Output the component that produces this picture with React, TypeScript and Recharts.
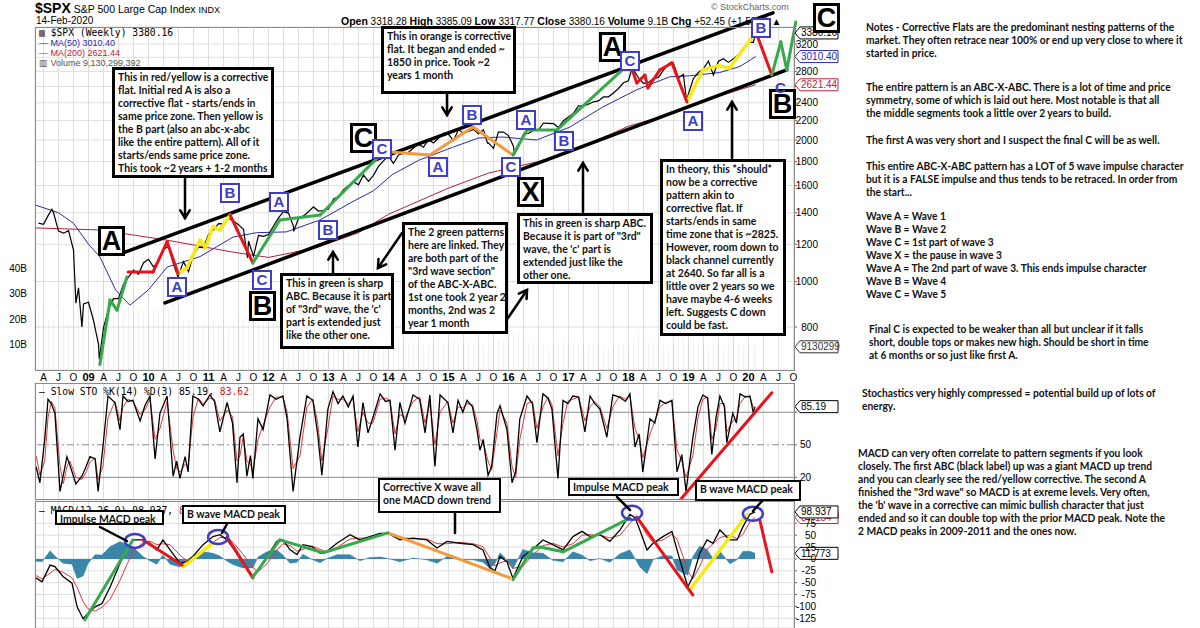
import React from "react";
import {
  ComposedChart,
  Line,
  Bar,
  Area,
  XAxis,
  YAxis,
  CartesianGrid,
  ReferenceLine,
  ReferenceDot,
  Cell,
} from "recharts";

const X_MIN = 2008.108;
const X_MAX = 2020.76;

// $SPX weekly, read at month ends (Feb 2008 .. Jan 2020)
const closeStart = 2008 + 2 / 12;
const monthlyClose = [
  1331, 1323, 1386, 1400, 1280, 1267, 1283, 1166, 969, 896, 903,
  826, 735, 798, 873, 919, 919, 987, 1021, 1057, 1036, 1096, 1115,
  1074, 1104, 1169, 1187, 1089, 1031, 1102, 1049, 1141, 1183, 1181, 1258,
  1286, 1327, 1326, 1364, 1345, 1321, 1292, 1219, 1131, 1253, 1247, 1258,
  1312, 1366, 1408, 1398, 1310, 1362, 1379, 1407, 1441, 1412, 1416, 1426,
  1498, 1515, 1569, 1598, 1631, 1606, 1686, 1633, 1682, 1757, 1806, 1848,
  1783, 1859, 1872, 1884, 1924, 1960, 1931, 2003, 1972, 2018, 2068, 2059,
  1995, 2105, 2068, 2086, 2107, 2063, 2104, 1972, 1920, 2079, 2080, 2044,
  1940, 1932, 2060, 2065, 2097, 2099, 2174, 2171, 2168, 2126, 2199, 2239,
  2279, 2364, 2363, 2384, 2412, 2423, 2470, 2472, 2519, 2575, 2648, 2674,
  2824, 2714, 2641, 2648, 2705, 2718, 2816, 2902, 2914, 2712, 2760, 2507,
  2704, 2784, 2834, 2946, 2752, 2942, 2980, 2926, 2977, 3038, 3141, 3231,
  3226,
];
const lastClose: [number, number] = [2020.12, 3380.16];
const weeklyExtremes: [number, number][] = [
  [2008.39, 1425], [2008.79, 899], [2008.89, 800], [2009.18, 683],
  [2010.49, 1022], [2011.65, 1123], [2012.42, 1278], [2015.65, 1971],
  [2016.1, 1865], [2018.07, 2873], [2018.72, 2930], [2018.97, 2417],
];
// weekly volume in billions, same months (+ Feb 2020)
const monthlyVolume = [
  22, 24, 20, 19, 22, 24, 18, 30, 38, 32, 26,
  28, 30, 36, 30, 28, 25, 22, 25, 23, 24, 22, 20,
  24, 22, 20, 24, 30, 26, 20, 20, 18, 18, 18, 16,
  20, 19, 20, 16, 18, 22, 20, 30, 26, 24, 20, 18,
  18, 17, 16, 16, 18, 17, 15, 13, 16, 16, 16, 15,
  16, 15, 15, 15, 16, 16, 14, 13, 14, 14, 13, 13,
  13, 12, 12, 11, 10, 10, 10, 10, 11, 14, 10, 11,
  12, 11, 11, 11, 10, 11, 10, 15, 13, 12, 11, 12,
  15, 14, 12, 11, 10, 12, 10, 9, 10, 10, 12, 11,
  11, 10, 11, 10, 10, 11, 9, 9, 9, 10, 10, 9,
  12, 16, 13, 11, 10, 11, 10, 9, 10, 14, 12, 15,
  12, 11, 11, 9, 11, 10, 9, 11, 10, 10, 9, 10,
  11, 9.13,
];
const ma50Points: [number, number][] = [
  [2008.11, 1455], [2008.5, 1400], [2008.75, 1330], [2009.0, 1200], [2009.19, 1128],
  [2009.45, 960], [2009.69, 890], [2010.0, 960], [2010.31, 1073], [2010.86, 1130],
  [2011.41, 1243], [2011.8, 1270], [2012.3, 1275], [2012.86, 1352], [2013.41, 1480],
  [2013.75, 1560], [2014.07, 1690], [2014.5, 1810], [2015.07, 1930], [2015.5, 2020],
  [2015.9, 2030], [2016.47, 2000], [2017.02, 2130], [2017.57, 2350], [2018.14, 2559],
  [2018.69, 2727], [2019.02, 2740], [2019.52, 2784], [2019.86, 2868], [2020.12, 3010.4],
];
const ma200Points: [number, number][] = [
  [2008.11, 1300], [2009.19, 1287], [2010.3, 1225], [2011.4, 1155], [2012.0, 1125],
  [2012.8, 1180], [2013.5, 1270], [2014.0, 1390], [2015.0, 1580], [2015.66, 1700],
  [2016.5, 1800], [2017.0, 1880], [2018.0, 2140], [2018.69, 2270], [2019.5, 2480],
  [2020.12, 2621.44],
];

// Slow STO %K(14) %D(3)
const stochPoints: [number, number, number][] = [
  [2008.125, 30, 40], [2008.19, 15, 22], [2008.27, 55, 35], [2008.325, 92, 75], [2008.38, 88, 90],
  [2008.44, 79, 84], [2008.525, 7, 30], [2008.58, 22, 14], [2008.64, 39, 30], [2008.69, 31, 35],
  [2008.79, 14, 20], [2008.89, 21, 18], [2008.96, 30, 25], [2009.025, 39, 34], [2009.11, 37, 38],
  [2009.16, 7, 18], [2009.24, 48, 30], [2009.325, 95, 75], [2009.44, 89, 90], [2009.525, 64, 72],
  [2009.575, 95, 85], [2009.66, 90, 92], [2009.74, 91, 90], [2009.86, 72, 78], [2009.94, 86, 82],
  [2010.025, 95, 92], [2010.11, 37, 55], [2010.19, 79, 65], [2010.31, 95, 90], [2010.41, 21, 45],
  [2010.47, 35, 28], [2010.525, 19, 25], [2010.61, 39, 32], [2010.66, 25, 30], [2010.74, 95, 75],
  [2010.83, 92, 93], [2010.91, 86, 88], [2011.025, 96, 93], [2011.1, 90, 92], [2011.19, 62, 72],
  [2011.31, 89, 82], [2011.4, 70, 76], [2011.475, 15, 35], [2011.525, 57, 40], [2011.58, 60, 58],
  [2011.64, 21, 35], [2011.7, 40, 32], [2011.74, 19, 26], [2011.825, 74, 55], [2011.91, 64, 68],
  [2012.025, 96, 85], [2012.13, 92, 94], [2012.24, 95, 94], [2012.31, 74, 80], [2012.41, 7, 28],
  [2012.525, 57, 40], [2012.64, 95, 85], [2012.74, 91, 92], [2012.82, 60, 70], [2012.89, 22, 35],
  [2012.99, 83, 65], [2013.075, 99, 95], [2013.16, 88, 92], [2013.24, 95, 92], [2013.33, 85, 88],
  [2013.41, 95, 92], [2013.49, 48, 62], [2013.575, 89, 80], [2013.66, 61, 70], [2013.74, 75, 70],
  [2013.86, 97, 92], [2013.95, 90, 93], [2014.025, 91, 91], [2014.11, 45, 60], [2014.19, 89, 78],
  [2014.275, 70, 75], [2014.41, 96, 90], [2014.52, 92, 94], [2014.61, 61, 70], [2014.69, 96, 88],
  [2014.775, 30, 50], [2014.86, 96, 80], [2014.99, 89, 90], [2015.075, 61, 70], [2015.16, 91, 85],
  [2015.24, 80, 84], [2015.31, 91, 88], [2015.4, 85, 87], [2015.475, 64, 72], [2015.525, 45, 55],
  [2015.58, 55, 52], [2015.66, 22, 35], [2015.72, 30, 27], [2015.81, 79, 62], [2015.86, 86, 82],
  [2015.975, 64, 70], [2016.06, 15, 30], [2016.12, 25, 20], [2016.19, 74, 55], [2016.31, 95, 88],
  [2016.4, 88, 90], [2016.475, 52, 65], [2016.575, 97, 85], [2016.66, 93, 94], [2016.725, 83, 87],
  [2016.825, 19, 40], [2016.91, 91, 70], [2016.99, 88, 90], [2017.075, 95, 92], [2017.17, 94, 94],
  [2017.275, 62, 72], [2017.36, 95, 85], [2017.44, 88, 90], [2017.525, 83, 85], [2017.64, 57, 65],
  [2017.74, 96, 85], [2017.85, 94, 95], [2017.95, 90, 92], [2018.025, 97, 95], [2018.11, 48, 65],
  [2018.18, 60, 55], [2018.24, 25, 38], [2018.36, 74, 60], [2018.44, 70, 72], [2018.525, 91, 85],
  [2018.62, 88, 89], [2018.725, 91, 90], [2018.81, 25, 45], [2018.89, 41, 35], [2018.96, 7, 20],
  [2019.075, 57, 40], [2019.16, 85, 75], [2019.24, 96, 92], [2019.32, 93, 94], [2019.39, 41, 55],
  [2019.46, 75, 65], [2019.525, 95, 88], [2019.6, 85, 88], [2019.64, 52, 62], [2019.74, 79, 72],
  [2019.8, 70, 74], [2019.86, 97, 88], [2019.95, 94, 95], [2020.025, 95, 94], [2020.08, 80, 85],
  [2020.11, 85.19, 83.62],
];

// MACD(12,26,9): macd, signal, histogram
const macdPoints: [number, number, number, number][] = [
  [2008.125, -40, -35, -5], [2008.225, -48, -42, -6], [2008.36, -13, -30, 17], [2008.44, -16, -22, 6],
  [2008.575, -37, -28, -9], [2008.725, -51, -40, -11], [2008.81, -101, -60, -41], [2008.91, -126, -90, -36],
  [2008.99, -115, -105, -10], [2009.11, -101, -110, 9], [2009.225, -94, -102, 8], [2009.36, -59, -85, 26],
  [2009.525, -9, -45, 36], [2009.64, 19, -12, 31], [2009.74, 40, 15, 25], [2009.91, 40, 35, 5],
  [2010.025, 33, 37, -4], [2010.14, 19, 30, -11], [2010.24, 40, 32, 8], [2010.36, 19, 30, -11],
  [2010.525, -9, 8, -17], [2010.64, -6, -4, -2], [2010.74, 5, -1, 6], [2010.91, 30, 15, 15],
  [2011.075, 47, 35, 12], [2011.19, 51, 45, 6], [2011.31, 40, 45, -5], [2011.41, 23, 35, -12],
  [2011.575, -9, 10, -19], [2011.74, -37, -18, -19], [2011.825, -23, -27, 4], [2011.975, 5, -10, 15],
  [2012.14, 37, 18, 19], [2012.24, 40, 32, 8], [2012.36, 19, 28, -9], [2012.475, 9, 16, -7],
  [2012.575, 30, 20, 10], [2012.725, 26, 27, -1], [2012.86, 12, 20, -8], [2012.975, 16, 15, 1],
  [2013.14, 33, 24, 9], [2013.36, 51, 42, 9], [2013.525, 40, 44, -4], [2013.69, 47, 44, 3],
  [2013.86, 54, 50, 4], [2013.99, 54, 53, 1], [2014.19, 40, 46, -6], [2014.41, 44, 42, 2],
  [2014.64, 40, 42, -2], [2014.81, 23, 32, -9], [2014.975, 37, 32, 5], [2015.19, 33, 35, -2],
  [2015.41, 30, 32, -2], [2015.575, 19, 26, -7], [2015.69, -18, 2, -20], [2015.775, -25, -15, -10],
  [2015.86, 5, -8, 13], [2015.975, -6, -4, -2], [2016.075, -41, -20, -21], [2016.24, 5, -15, 20],
  [2016.41, 21, 8, 13], [2016.575, 40, 28, 12], [2016.74, 30, 33, -3], [2016.91, 19, 25, -6],
  [2017.075, 47, 32, 15], [2017.225, 58, 50, 8], [2017.36, 47, 51, -4], [2017.525, 51, 50, 1],
  [2017.69, 37, 44, -7], [2017.86, 61, 50, 11], [2018.025, 94, 75, 19], [2018.11, 87, 86, 1],
  [2018.19, 61, 78, -17], [2018.31, 19, 50, -31], [2018.41, 33, 35, -2], [2018.575, 47, 40, 7],
  [2018.725, 58, 52, 6], [2018.81, 19, 42, -23], [2018.91, -25, 5, -30], [2018.99, -59, -25, -34],
  [2019.075, -37, -42, 5], [2019.19, 12, -15, 27], [2019.31, 40, 20, 20], [2019.41, 33, 32, 1],
  [2019.525, 61, 45, 16], [2019.69, 40, 50, -10], [2019.81, 40, 42, -2], [2019.91, 68, 52, 16],
  [2020.025, 94, 78, 16], [2020.11, 98.937, 87.154, 11.773],
];

// hand-drawn wave annotations (date, price)
const channelLines: [number, number][][] = [
  [[2009.575, 1150], [2020.41, 3729]],
  [[2010.275, 900], [2020.64, 2820]],
];
const greenWaves: [number, number][][] = [
  [[2009.19, 666], [2009.36, 913], [2009.475, 869], [2009.64, 1022]],
  [[2011.74, 1095], [2012.19, 1352], [2012.86, 1385], [2013.92, 1890]],
  [[2016.075, 1859], [2016.31, 2101], [2016.81, 2101], [2018.025, 2918]],
  [[2020.39, 2751], [2020.54, 3235], [2020.64, 2820], [2020.79, 3568]],
];
const redWaves: [number, number][][] = [
  [[2009.66, 1047], [2010.075, 1047], [2010.31, 1214], [2010.49, 1042]],
  [[2011.36, 1385], [2011.74, 1095]],
  [[2018.025, 2918], [2018.14, 2646], [2018.275, 2751], [2018.325, 2582], [2018.525, 2820], [2018.725, 2918], [2018.975, 2410]],
  [[2020.125, 3397], [2020.39, 2751]],
];
const yellowWaves: [number, number][][] = [
  [[2010.49, 1042], [2010.64, 1068], [2010.86, 1225], [2010.95, 1180], [2011.075, 1309], [2011.19, 1287], [2011.36, 1385]],
  [[2018.975, 2410], [2019.24, 2820], [2019.5, 2880], [2019.69, 2847], [2019.78, 2960], [2020.075, 3318]],
];
const orangeWaves: [number, number][][] = [
  [[2013.92, 1890], [2014.69, 1859], [2015.41, 2132], [2016.075, 1859]],
];
// waves on the MACD panel (date, macd)
const macdGreen: [number, number][][] = [
  [[2008.94, -128], [2009.74, 40]],
  [[2011.74, -38], [2012.19, 40], [2012.91, 13], [2013.99, 55]],
  [[2016.075, -44], [2016.41, 23], [2016.525, 25], [2016.91, 15], [2018.025, 86]],
];
const macdRed: [number, number][][] = [
  [[2009.91, 40], [2010.56, -13]],
  [[2011.31, 46], [2011.74, -40]],
  [[2018.14, 88], [2019.075, -76]],
  [[2020.19, 82], [2020.39, -27]],
];
const macdYellow: [number, number][][] = [
  [[2010.575, -17], [2011.075, 34]],
  [[2019.025, -65], [2019.975, 93]],
];
const macdOrange: [number, number][][] = [[[2013.99, 55], [2016.025, -40]]];
const macdPeaks: [number, number][] = [[2009.775, 38], [2011.16, 46], [2018.06, 97], [2020.075, 95]];
const stochTrend: [number, number][] = [[2018.86, -1], [2020.39, 98]];

const priceTicks = [800, 1000, 1200, 1400, 1600, 1800, 2000, 2200, 2400, 2600, 2800, 3000, 3200];
const hiddenPriceLabels = [2600, 3000];
const macdTicks = [-125, -100, -75, -50, -25, 0, 25, 50, 75];

const quarterTicks: number[] = [];
for (let y = 2008; y <= 2020; y++) {
  for (let q = 0; q < 4; q++) {
    const t = y + q / 4;
    if (t > X_MIN && t < X_MAX) quarterTicks.push(t);
  }
}

const monthRows = monthlyClose.map((c, i) => ({
  x: closeStart + i / 12,
  close: c,
  vol: monthlyVolume[i],
  down: i > 0 && c < monthlyClose[i - 1],
}));
monthRows.push({ x: lastClose[0], close: lastClose[1], vol: monthlyVolume[144], down: false });
const priceRows: any[] = [
  ...monthRows,
  ...weeklyExtremes.map(([x, close]) => ({ x, close })),
  ...ma50Points.map(([x, ma50]) => ({ x, ma50 })),
  ...ma200Points.map(([x, ma200]) => ({ x, ma200 })),
].sort((a, b) => a.x - b.x);

const stochRows = stochPoints.map(([x, k, d]) => ({ x, k, d }));
const macdRows = macdPoints.map(([x, macd, signal, hist]) => ({ x, macd, signal, hist }));

const AX = "Liberation Sans, Arial, sans-serif";
const NOTE_FONT = "Lato, 'Open Sans', sans-serif";
const RED = "#e8141c";
const YELLOW = "#f6ea12";
const GREEN = "#36a94b";
const ORANGE = "#f59a3c";
const BLUE = "#3d3dc7";

const QuarterTick = (props: any) => {
  const { x, y, payload } = props;
  const v = payload.value;
  const q = Math.round((v - Math.floor(v)) * 4);
  const label = q === 0 ? String(Math.floor(v)).slice(2) : ["", "A", "J", "O"][q];
  return (
    <text x={x} y={y} dy={3} textAnchor="middle" fontSize={q === 0 ? 11 : 10}
      fontWeight={q === 0 ? 700 : 400} fontFamily={AX} fill="#000">
      {label}
    </text>
  );
};

const rightTick = (anchorX: number, anchor: "start" | "end", hidden: number[] = []) => (props: any) => {
  const { y, payload } = props;
  if (hidden.includes(payload.value)) return <g />;
  return (
    <text x={anchorX} y={y} dy={3.5} textAnchor={anchor} fontSize={10} fontFamily={AX} fill="#000">
      {payload.value}
    </text>
  );
};

const tagShape = (label: string, color: string) => (props: any) => {
  const { cx, cy } = props;
  if (cx == null || cy == null) return null;
  return (
    <g>
      <polygon
        points={`${cx + 1},${cy} ${cx + 6},${cy - 6} ${cx + 44},${cy - 6} ${cx + 44},${cy + 6} ${cx + 6},${cy + 6}`}
        fill="#fff" stroke={color} strokeWidth={1}
      />
      <text x={cx + 7} y={cy + 3.5} fontSize={10} fill={color} fontFamily={AX}>{label}</text>
    </g>
  );
};

const ellipseShape = (props: any) => {
  const { cx, cy } = props;
  if (cx == null || cy == null) return null;
  return <ellipse cx={cx} cy={cy} rx={10} ry={7} fill="none" stroke={BLUE} strokeWidth={2.5} />;
};

function segments(paths: [number, number][][], color: string, width: number, yAxisId?: string) {
  const out: any[] = [];
  paths.forEach((p, pi) => {
    for (let i = 0; i < p.length - 1; i++) {
      out.push(
        <ReferenceLine
          key={`${color}-${pi}-${i}`}
          yAxisId={yAxisId}
          segment={[{ x: p[i][0], y: p[i][1] }, { x: p[i + 1][0], y: p[i + 1][1] }]}
          stroke={color}
          strokeWidth={width}
          strokeLinecap="round"
          ifOverflow="visible"
        />
      );
    }
  });
  return out;
}

function NoteText({ x, y, lines, scale = 0.93, size = 11 }: any) {
  return (
    <div style={{
      position: "absolute", left: x, top: y, whiteSpace: "nowrap",
      transform: `scaleX(${scale})`, transformOrigin: "left top",
      fontFamily: NOTE_FONT, fontWeight: 700, fontSize: size, lineHeight: "13px", color: "#111",
    }}>
      {lines.map((l: string, i: number) => <div key={i}>{l}</div>)}
    </div>
  );
}

function TextBox({ x, y, w, h, lines, bw = 3 }: any) {
  return (
    <div style={{
      position: "absolute", left: x, top: y, width: w, height: h, boxSizing: "border-box",
      border: `${bw}px solid #000`, background: "#fff", overflow: "hidden",
    }}>
      <NoteText x={3} y={0} lines={lines} scale={0.95} />
    </div>
  );
}

function BigLetter({ x, y, t }: any) {
  return (
    <div style={{
      position: "absolute", left: x - 13, top: y - 15, width: 27, height: 30, boxSizing: "border-box",
      border: "3px solid #000", background: "#fff", fontFamily: AX, fontWeight: 700, fontSize: 27,
      lineHeight: "25px", textAlign: "center", color: "#000",
    }}>{t}</div>
  );
}

function BlueLetter({ x, y, t }: any) {
  return (
    <div style={{
      position: "absolute", left: x - 10, top: y - 10, width: 20, height: 20, boxSizing: "border-box",
      border: `2.5px solid ${BLUE}`, background: "#fff", fontFamily: AX, fontWeight: 700, fontSize: 15,
      lineHeight: "15px", textAlign: "center", color: BLUE,
    }}>{t}</div>
  );
}

const arrows = [
  { a: [185, 177], b: [185, 218], head: true },
  { a: [447, 93], b: [447, 115], head: true },
  { a: [333, 273], b: [333, 252], head: true },
  { a: [402, 233], b: [378, 268], head: true },
  { a: [508, 318], b: [527, 290], head: true },
  { a: [583, 212], b: [583, 163], head: true },
  { a: [732, 158], b: [732, 102], head: true },
  { a: [100, 527], b: [127, 541], head: false },
  { a: [227, 524], b: [222, 533], head: false },
  { a: [455, 512], b: [455, 533], head: false },
  { a: [617, 497], b: [630, 510], head: false },
  { a: [763, 500], b: [753, 511], head: false },
];

function Arrow({ a, b, head }: any) {
  const ang = Math.atan2(b[1] - a[1], b[0] - a[0]);
  const L = 9;
  const p1 = [b[0] - L * Math.cos(ang - 0.55), b[1] - L * Math.sin(ang - 0.55)];
  const p2 = [b[0] - L * Math.cos(ang + 0.55), b[1] - L * Math.sin(ang + 0.55)];
  return (
    <g stroke="#000" strokeWidth={2.5} fill="none" strokeLinecap="round">
      <line x1={a[0]} y1={a[1]} x2={b[0]} y2={b[1]} />
      {head && <polyline points={`${p1[0]},${p1[1]} ${b[0]},${b[1]} ${p2[0]},${p2[1]}`} />}
    </g>
  );
}

const panelBorder = (top: number, height: number) => (
  <div style={{
    position: "absolute", left: 35, top, width: 760, height, boxSizing: "border-box",
    border: "1px solid #8a8a8a", pointerEvents: "none",
  }} />
);

const mono = "'DejaVu Sans Mono', monospace";

export default function App() {
  return (
    <div style={{ position: "absolute", left: 0, top: 0, width: 1200, height: 628, background: "#fff", overflow: "hidden", fontFamily: AX }}>
      {/* price panel */}
      <div style={{ position: "absolute", left: 0, top: 0 }}>
        <ComposedChart width={840} height={388} data={priceRows} margin={{ top: 27, right: 0, bottom: 0, left: 0 }}>
          <CartesianGrid stroke="#dedede" yAxisId="price" />
          <XAxis dataKey="x" type="number" domain={[X_MIN, X_MAX]} allowDataOverflow ticks={quarterTicks}
            interval={0} tick={<QuarterTick />} tickLine={false} axisLine={false} height={18} />
          <YAxis yAxisId="vol" orientation="left" width={35} domain={[0, 135]} allowDataOverflow ticks={[10, 20, 30, 40]}
            tickFormatter={(v: number) => `${v}B`} axisLine={false} tickLine={false}
            tick={{ fontSize: 10, fill: "#000", fontFamily: AX }} />
          <YAxis yAxisId="price" orientation="right" width={46} scale="log" domain={[648, 3480]} allowDataOverflow
            ticks={priceTicks} interval={0} axisLine={false} tickSize={3} tick={rightTick(818, "end", hiddenPriceLabels)} />
          <Bar yAxisId="vol" dataKey="vol" barSize={4} isAnimationActive={false}>
            {priceRows.map((r, i) => <Cell key={i} fill={r.down ? "#e3a3a3" : "#b3b3b3"} />)}
          </Bar>
          <Line yAxisId="price" dataKey="ma200" stroke="#b5203c" strokeWidth={1} dot={false} connectNulls isAnimationActive={false} />
          <Line yAxisId="price" dataKey="ma50" stroke="#2a2aa8" strokeWidth={1} dot={false} connectNulls isAnimationActive={false} />
          <Line yAxisId="price" dataKey="close" stroke="#000" strokeWidth={1.2} dot={false} connectNulls isAnimationActive={false} />
          {segments(channelLines, "#000", 3.5, "price")}
          {segments(orangeWaves, ORANGE, 3, "price")}
          {segments(yellowWaves, YELLOW, 3.5, "price")}
          {segments(redWaves, RED, 3, "price")}
          {segments(greenWaves, GREEN, 3, "price")}
          <ReferenceDot yAxisId="vol" x={X_MAX} y={9.13} r={0} ifOverflow="visible" shape={tagShape("9130299", "#333")} />
          <ReferenceDot yAxisId="price" x={X_MAX} y={2621.44} r={0} ifOverflow="visible" shape={tagShape("2621.44", "#c0203c")} />
          <ReferenceDot yAxisId="price" x={X_MAX} y={3010.4} r={0} ifOverflow="visible" shape={tagShape("3010.40", "#2a2aa8")} />
          <ReferenceDot yAxisId="price" x={X_MAX} y={3380.16} r={0} ifOverflow="visible" shape={tagShape("3380.16", "#000")} />
        </ComposedChart>
      </div>

      {/* stochastics panel */}
      <div style={{ position: "absolute", left: 0, top: 383 }}>
        <ComposedChart width={840} height={116} data={stochRows} margin={{ top: 0, right: 0, bottom: 0, left: 35 }}>
          <CartesianGrid stroke="#dedede" horizontal={false} />
          <XAxis dataKey="x" type="number" domain={[X_MIN, X_MAX]} allowDataOverflow ticks={quarterTicks} interval={0} hide />
          <YAxis orientation="right" width={46} domain={[0, 107]} ticks={[20, 50, 80]} interval={0}
            axisLine={false} tickSize={3} tick={rightTick(800, "start", [80])} />
          <ReferenceLine y={80} stroke="#8a8a8a" />
          <ReferenceLine y={20} stroke="#8a8a8a" />
          <ReferenceLine y={50} stroke="#8a8a8a" strokeDasharray="7 3 2 3" />
          <Line dataKey="d" stroke="#e03a3a" strokeWidth={1} dot={false} isAnimationActive={false} />
          <Line dataKey="k" stroke="#000" strokeWidth={1.3} dot={false} isAnimationActive={false} />
          {segments([stochTrend], RED, 3)}
          <ReferenceDot x={X_MAX} y={85.19} r={0} ifOverflow="visible" shape={tagShape("85.19", "#000")} />
        </ComposedChart>
      </div>

      {/* MACD panel */}
      <div style={{ position: "absolute", left: 0, top: 500 }}>
        <ComposedChart width={840} height={128} data={macdRows} margin={{ top: 1, right: 0, bottom: 0, left: 35 }}>
          <CartesianGrid stroke="#dedede" />
          <XAxis dataKey="x" type="number" domain={[X_MIN, X_MAX]} allowDataOverflow ticks={quarterTicks} interval={0} hide />
          <YAxis orientation="right" width={46} domain={[-145.5, 122]} ticks={macdTicks} interval={0}
            axisLine={false} tickSize={3} tick={rightTick(816, "end")} />
          <Area dataKey="hist" baseValue={0} type="linear" fill="#2f7fa6" fillOpacity={0.95} stroke="#2f7fa6" strokeWidth={0.5} isAnimationActive={false} />
          <Line dataKey="signal" stroke="#e03a3a" strokeWidth={1} dot={false} isAnimationActive={false} />
          <Line dataKey="macd" stroke="#000" strokeWidth={1.3} dot={false} isAnimationActive={false} />
          {segments(macdOrange, ORANGE, 3)}
          {segments(macdYellow, YELLOW, 3.5)}
          {segments(macdRed, RED, 3)}
          {segments(macdGreen, GREEN, 3)}
          {macdPeaks.map(([x, y], i) => (
            <ReferenceDot key={i} x={x} y={y} r={0} ifOverflow="visible" shape={ellipseShape} />
          ))}
          <ReferenceDot x={X_MAX} y={11.773} r={0} ifOverflow="visible" shape={tagShape("11.773", "#000")} />
          <ReferenceDot x={X_MAX} y={87.154} r={0} ifOverflow="visible" shape={tagShape("87.154", "#c0203c")} />
          <ReferenceDot x={X_MAX} y={98.937} r={0} ifOverflow="visible" shape={tagShape("98.937", "#000")} />
        </ComposedChart>
      </div>

      {panelBorder(27, 344)}
      {panelBorder(383, 117)}
      {panelBorder(501, 140)}

      {/* header */}
      <div style={{ position: "absolute", left: 35, top: 0, fontSize: 10.5, whiteSpace: "nowrap" }}>
        <span style={{ fontSize: 14, fontWeight: 700 }}>$SPX</span>{" "}
        <span>S&amp;P 500 Large Cap Index</span>{" "}
        <span style={{ fontSize: 9 }}>INDX</span>
      </div>
      <div style={{ position: "absolute", left: 36, top: 15, fontSize: 10 }}>14-Feb-2020</div>
      <div style={{ position: "absolute", left: 341, top: 15, fontSize: 10, whiteSpace: "nowrap" }}>
        <b style={{ fontSize: 10.5 }}>Open</b> 3318.28 <b style={{ fontSize: 10.5 }}>High</b> 3385.09{" "}
        <b style={{ fontSize: 10.5 }}>Low</b> 3317.77 <b style={{ fontSize: 10.5 }}>Close</b> 3380.16{" "}
        <b style={{ fontSize: 10.5 }}>Volume</b> 9.1B <b style={{ fontSize: 10.5 }}>Chg</b> +52.45 (+1.58%) ▲
      </div>
      <div style={{ position: "absolute", left: 711, top: 2, fontSize: 9, color: "#666" }}>© StockCharts.com</div>

      {/* legends */}
      <div style={{ position: "absolute", left: 39, top: 28, fontFamily: mono, fontSize: 9.7, lineHeight: "10px", whiteSpace: "nowrap" }}>
        ▥ $SPX (Weekly) 3380.16
      </div>
      <div style={{ position: "absolute", left: 39, top: 38, fontSize: 9, lineHeight: "10px", color: "#2a2aa8", whiteSpace: "nowrap" }}>— MA(50) 3010.40</div>
      <div style={{ position: "absolute", left: 39, top: 48, fontSize: 9, lineHeight: "10px", color: "#c0203c", whiteSpace: "nowrap" }}>— MA(200) 2621.44</div>
      <div style={{ position: "absolute", left: 39, top: 58, fontSize: 9, lineHeight: "10px", color: "#555", whiteSpace: "nowrap" }}>▥ Volume 9,130,299,392</div>
      <div style={{ position: "absolute", left: 39, top: 387, fontFamily: mono, fontSize: 9.7, lineHeight: "10px", whiteSpace: "nowrap" }}>
        — Slow STO %K(14) %D(3) 85.19, <span style={{ color: "#d02020" }}>83.62</span>
      </div>
      <div style={{ position: "absolute", left: 39, top: 506, fontFamily: mono, fontSize: 9.7, lineHeight: "10px", whiteSpace: "nowrap" }}>
        — MACD(12,26,9) 98.937, <span style={{ color: "#d02020" }}>87.154</span>, 11.773
      </div>

      {/* arrows */}
      <svg width={1200} height={628} style={{ position: "absolute", left: 0, top: 0, pointerEvents: "none" }}>
        {arrows.map((a, i) => <Arrow key={i} {...a} />)}
      </svg>

      {/* letter labels */}
      <BigLetter x={111} y={241} t="A" />
      <BigLetter x={262} y={306} t="B" />
      <BigLetter x={363} y={138} t="C" />
      <BigLetter x={530} y={192} t="X" />
      <BigLetter x={612} y={47} t="A" />
      <BigLetter x={782} y={104} t="B" />
      <BigLetter x={826} y={18} t="C" />
      <BlueLetter x={177} y={287} t="A" />
      <BlueLetter x={230} y={193} t="B" />
      <BlueLetter x={262} y={280} t="C" />
      <BlueLetter x={279} y={202} t="A" />
      <BlueLetter x={328} y={230} t="B" />
      <BlueLetter x={382} y={149} t="C" />
      <BlueLetter x={438} y={167} t="A" />
      <BlueLetter x={472} y={115} t="B" />
      <BlueLetter x={511} y={167} t="C" />
      <BlueLetter x={526} y={120} t="A" />
      <BlueLetter x={564} y={141} t="B" />
      <BlueLetter x={630} y={61} t="C" />
      <BlueLetter x={693} y={121} t="A" />
      <BlueLetter x={761} y={28} t="B" />
      <div style={{ position: "absolute", left: 775, top: 79, color: BLUE, fontWeight: 700, fontSize: 15 }}>C</div>

      {/* text boxes */}
      <TextBox x={112} y={67} w={162} h={111} lines={[
        "This in red/yellow is a corrective", "flat. Initial red A is also a", "corrective flat - starts/ends in",
        "same price zone. Then yellow is", "the B part (also an abc-x-abc", "like the entire pattern). All of it",
        "starts/ends same price zone.", "This took ~2 years + 1-2 months",
      ]} />
      <TextBox x={381} y={26} w={135} h={68} lines={[
        "This in orange is corrective", "flat. It began and ended ~", "1850 in price. Took ~2", "years 1 month",
      ]} />
      <TextBox x={280} y={273} w={114} h={76} lines={[
        "This in green is sharp", "ABC. Because it is part", "of \"3rd\" wave, the 'c'", "part is extended just", "like the other one.",
      ]} />
      <TextBox x={402} y={222} w={106} h={112} lines={[
        "The 2 green patterns", "here are linked. They", "are both part of the", "\"3rd wave section\"",
        "of the ABC-X-ABC.", "1st one took 2 year 2", "months, 2nd was 2", "year 1 month",
      ]} />
      <TextBox x={517} y={213} w={136} h={71} lines={[
        "This in green is sharp ABC.", "Because it is part of \"3rd\"", "wave, the 'c' part is", "extended just like the", "other one.",
      ]} />
      <TextBox x={660} y={159} w={126} h={177} lines={[
        "In theory, this *should*", "now be a corrective", "pattern akin to", "corrective flat. If", "starts/ends in same",
        "time zone that is ~2825.", "However, room down to", "black channel currently", "at 2640. So far all is a",
        "little over 2 years so we", "have maybe 4-6 weeks", "left. Suggests C down", "could be fast.",
      ]} />
      <TextBox x={55} y={510} w={109} h={15} bw={2.5} lines={["Impulse MACD peak"]} />
      <TextBox x={182} y={505} w={104} h={19} bw={2.5} lines={["B wave MACD peak"]} />
      <TextBox x={378} y={478} w={123} h={35} bw={2.5} lines={["Corrective X wave all", "one MACD down trend"]} />
      <TextBox x={568} y={478} w={111} h={18} bw={2.5} lines={["Impulse MACD peak"]} />
      <TextBox x={695} y={480} w={106} h={21} bw={2.5} lines={["B wave MACD peak"]} />

      {/* notes */}
      <NoteText x={866} y={20} lines={[
        "Notes - Corrective Flats are the predominant nesting patterns of the",
        "market. They often retrace near 100% or end up very close to where it",
        "started in price.",
      ]} />
      <NoteText x={866} y={80} lines={[
        "The entire pattern is an ABC-X-ABC. There is a lot of time and price",
        "symmetry, some of which is laid out here. Most notable is that all",
        "the middle segments took a little over 2 years to build.",
      ]} />
      <NoteText x={866} y={133} lines={["The first A was very short and I suspect the final C will be as well."]} />
      <NoteText x={866} y={159} lines={[
        "This entire ABC-X-ABC pattern has a LOT of 5 wave impulse character",
        "but it is a FALSE impulse and thus tends to be retraced. In order from",
        "the start...",
      ]} />
      <NoteText x={866} y={209} lines={[
        "Wave A = Wave 1", "Wave B = Wave 2", "Wave C = 1st part of wave 3", "Wave X = the pause in wave 3",
        "Wave A = The 2nd part of wave 3. This ends impulse character", "Wave B = Wave 4", "Wave C = Wave 5",
      ]} />
      <NoteText x={869} y={322} lines={[
        "Final C is expected to be weaker than all but unclear if it falls",
        "short, double tops or makes new high. Should be short in time",
        "at 6 months or so just like first A.",
      ]} />
      <NoteText x={862} y={386} lines={["Stochastics very highly compressed = potential build up of lots of", "energy."]} />
      <NoteText x={858} y={446} lines={[
        "MACD can very often correlate to pattern segments if you look",
        "closely. The first ABC (black label) up was a giant MACD up trend",
        "and you can clearly see the red/yellow corrective. The second A",
        "finished the \"3rd wave\" so MACD is at exreme levels. Very often,",
        "the 'b' wave in a corrective can mimic bullish character that just",
        "ended and so it can double top with the prior MACD peak. Note the",
        "2 MACD peaks in 2009-2011 and the ones now.",
      ]} />
    </div>
  );
}
